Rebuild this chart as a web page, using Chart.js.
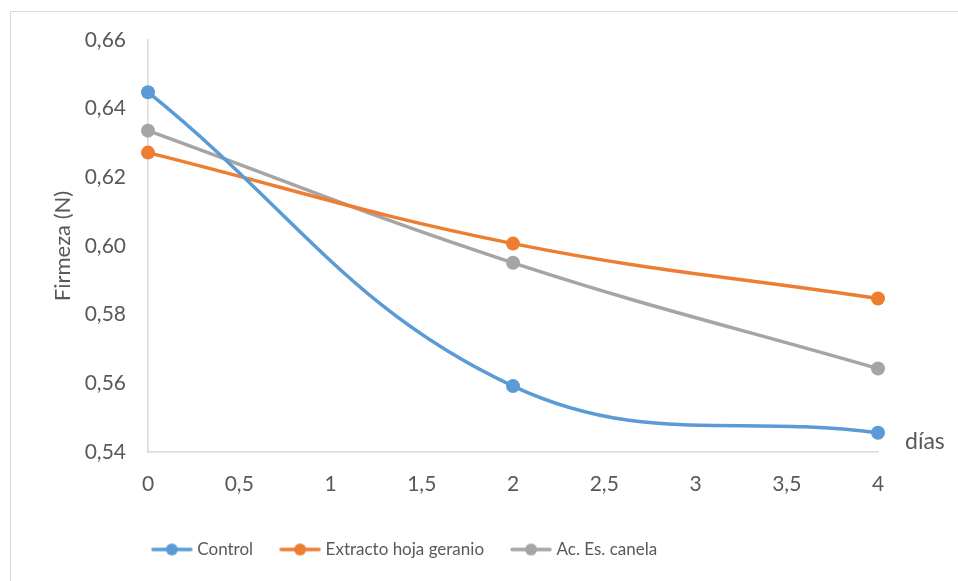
<!DOCTYPE html>
<html>
<head>
<meta charset="utf-8">
<script src="https://cdn.jsdelivr.net/npm/chart.js@4.4.1/dist/chart.umd.min.js"></script>
<style>
    body { margin: 0; background: #ffffff; overflow: hidden; }
    #marco {
        position: absolute; left: 10px; top: 11px;
        width: 1000px; height: 700px;
        border: 1px solid #d9d9d9;
    }
    #grafico { position: absolute; left: 0; top: 0; }
</style>
</head>
<body>
<div id="marco"></div>
<canvas id="grafico" width="958" height="581"></canvas>
<script>
    // dias de medicion (eje x)
    const dias = [0, 2, 4];

    // firmeza medida en cada dia (N)
    const control = [0.6448, 0.5592, 0.5456];
    const extractoGeranio = [0.6272, 0.6007, 0.5847];
    const canela = [0.6336, 0.5951, 0.5643];

    const nombres = ['Control', 'Extracto hoja geranio', 'Ac. Es. canela'];
    const colores = ['#5b9bd5', '#ed7d31', '#a5a5a5'];

    const colorTexto = '#595959';
    const colorEje = '#d9d9d9';
    const fuente = 'Lato, "Liberation Sans", sans-serif';

    // arma los puntos {x, y} a partir de los arrays
    function armarPuntos(valores) {
        let puntos = [];
        for (let i = 0; i < dias.length; i++) {
            puntos.push({ x: dias[i], y: valores[i] });
        }
        return puntos;
    }

    // icono de la leyenda: linea con circulo al medio (como en Excel)
    // es un poco mas ancho que la caja de la leyenda para que el texto quede pegado
    function iconoLeyenda(color) {
        const c = document.createElement('canvas');
        c.width = 42;
        c.height = 14;
        const ctx = c.getContext('2d');
        ctx.strokeStyle = color;
        ctx.lineWidth = 3.5;
        ctx.lineCap = 'round';
        ctx.beginPath();
        ctx.moveTo(2, 7);
        ctx.lineTo(40, 7);
        ctx.stroke();
        ctx.fillStyle = color;
        ctx.beginPath();
        ctx.arc(21, 7, 6, 0, Math.PI * 2);
        ctx.fill();
        return c;
    }

    function conComa(texto) {
        return String(texto).replace('.', ',');
    }

    const series = [control, extractoGeranio, canela];
    const datasets = series.map(function (valores, i) {
        return {
            label: nombres[i],
            data: armarPuntos(valores),
            borderColor: colores[i],
            backgroundColor: colores[i],
            borderWidth: 3.5,
            pointRadius: 7,
            pointHoverRadius: 7,
            pointBorderWidth: 0,
            pointStyle: 'circle',
            leyenda: iconoLeyenda(colores[i]),
            tension: 0.4,
            clip: false
        };
    });

    // titulo "días" al final del eje x
    const tituloDias = {
        id: 'tituloDias',
        afterDraw: function (chart) {
            const ctx = chart.ctx;
            const area = chart.chartArea;
            ctx.save();
            ctx.fillStyle = colorTexto;
            ctx.font = '23px ' + fuente;
            ctx.textAlign = 'left';
            ctx.textBaseline = 'middle';
            ctx.fillText('días', area.right + 27, area.bottom - 10);
            ctx.restore();
        }
    };

    // la leyenda de Excel queda centrada un poco mas a la izquierda
    const moverLeyenda = {
        id: 'moverLeyenda',
        afterLayout: function (chart) {
            if (chart.legend) {
                chart.legend.left -= 33;
                chart.legend.right -= 33;
            }
        }
    };

    const config = {
        type: 'line',
        data: { datasets: datasets },
        options: {
            responsive: false,
            animation: false,
            layout: {
                padding: { left: 0, top: 40, right: 80, bottom: 13 }
            },
            plugins: {
                tooltip: { enabled: false },
                legend: {
                    position: 'bottom',
                    labels: {
                        color: colorTexto,
                        font: { family: fuente, size: 17 },
                        usePointStyle: true,
                        pointStyleWidth: 34,
                        boxHeight: 14,
                        padding: 30,
                        generateLabels: function (chart) {
                            return chart.data.datasets.map(function (d, i) {
                                return {
                                    text: d.label,
                                    fontColor: colorTexto,
                                    pointStyle: d.leyenda,
                                    fillStyle: d.borderColor,
                                    strokeStyle: d.borderColor,
                                    lineWidth: 0,
                                    hidden: false,
                                    datasetIndex: i
                                };
                            });
                        }
                    }
                }
            },
            scales: {
                x: {
                    type: 'linear',
                    min: 0,
                    max: 4,
                    grid: { display: false, drawTicks: false },
                    border: { display: true, color: colorEje, width: 1.5 },
                    ticks: {
                        stepSize: 0.5,
                        color: colorTexto,
                        padding: 20,
                        maxRotation: 0,
                        font: { family: fuente, size: 21 },
                        callback: function (v) { return conComa(v); }
                    },
                    afterFit: function (scale) { scale.height = 59; }
                },
                y: {
                    min: 0.54,
                    max: 0.66,
                    grid: { display: false, drawTicks: false },
                    border: { display: true, color: colorEje, width: 1.5 },
                    title: {
                        display: true,
                        text: 'Firmeza (N)',
                        color: colorTexto,
                        font: { family: fuente, size: 22 },
                        padding: { top: 50, bottom: 0 }
                    },
                    ticks: {
                        stepSize: 0.02,
                        color: colorTexto,
                        padding: 22,
                        font: { family: fuente, size: 21 },
                        callback: function (v) { return conComa(v.toFixed(2)); }
                    },
                    afterFit: function (scale) { scale.width = 148; }
                }
            }
        },
        plugins: [tituloDias, moverLeyenda]
    };

    const miGrafico = new Chart(document.getElementById('grafico'), config);
    console.log(miGrafico.chartArea);
</script>
</body>
</html>
